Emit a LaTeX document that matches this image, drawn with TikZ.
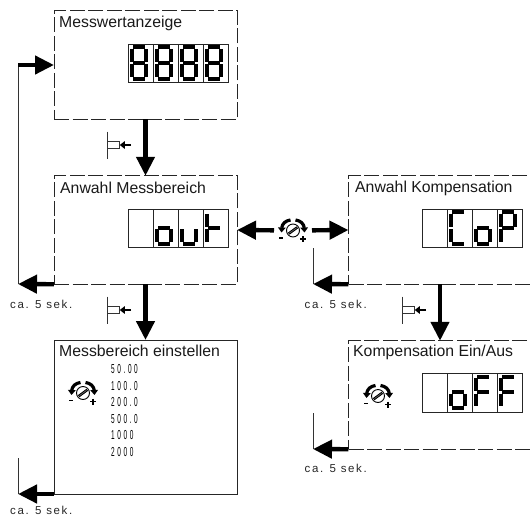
\documentclass[tikz,border=0pt]{standalone}
\usepackage{fontspec}
\setmainfont{Liberation Sans}
\newfontfamily\thinfont[LetterSpace=14]{Liberation Sans}
\newfontfamily\narrowfont[FakeStretch=0.5,LetterSpace=20]{Liberation Sans}
\usetikzlibrary{arrows.meta}
\tikzset{
  x=1pt,y=-1pt,
  stage/.style={draw=black!85,line width=0.8pt,minimum width=183pt,minimum height=108.5pt,inner sep=0pt,outer sep=0pt,dash pattern=on 15pt off 3.5pt},
  stagesolid/.style={draw=black!85,line width=0.8pt,minimum width=183pt,minimum height=154pt,inner sep=0pt,outer sep=0pt},
  flow/.style={line width=4.4pt,-{Triangle[length=19pt,width=18pt]},black},
  backline/.style={line width=0.8pt,black!80},
  title/.style={anchor=west,inner sep=0pt,font=\fontsize{15.8}{18}\selectfont,text=black!90},
  note/.style={anchor=west,inner sep=0pt,font=\thinfont\fontsize{11.5}{13}\selectfont,text=black!85},
  rangeval/.style={anchor=west,inner sep=0pt,font=\narrowfont\fontsize{13}{15}\selectfont},
  knobzone/.style={circle,minimum size=38pt,inner sep=0pt,outer sep=0pt},
  seg/.style={line width=4pt,black},
  seg a/.pic={\draw[seg] (1.6,-31.2)--(13.2,-31.2);},
  seg b/.pic={\draw[seg] (14.8,-29.6)--(14.8,-17);},
  seg c/.pic={\draw[seg] (14.8,-14.2)--(14.8,-1.6);},
  seg d/.pic={\draw[seg] (1.6,0)--(13.2,0);},
  seg e/.pic={\draw[seg] (0,-14.2)--(0,-1.6);},
  seg f/.pic={\draw[seg] (0,-29.6)--(0,-17);},
  seg g/.pic={\draw[seg] (1.6,-15.6)--(13.2,-15.6);},
  knob/.pic={
    \draw[line width=0.9pt,fill=white] (0,0) circle[radius=6.5];
    \draw[line width=0.8pt,fill=black!60] (-4.5,2.2)--(3.4,-3.6)--(4.5,-2.2)--(-3.4,3.6)--cycle;
    \draw[line width=3.2pt,-{Triangle[length=5pt,width=7.5pt]}] (-2.5,-10.5) .. controls (-7.5,-10) and (-11,-6.5) .. (-11.5,2);
    \draw[line width=3.2pt,-{Triangle[length=5pt,width=7.5pt]}] (2.5,-10.5) .. controls (7.5,-10) and (11,-6.5) .. (11.5,2);
    \draw[line width=1.5pt] (-14,7.7)--(-10,7.7);
    \draw[line width=1.4pt] (7,8.5)--(13,8.5) (10,5.5)--(10,11.5);
  },
  pusher/.pic={
    \draw[line width=0.7pt,black!80] (0,-13.5)--(0,13.5);
    \draw[line width=0.7pt,black!80,fill=white] (0,-3.5) rectangle (12.5,3.5);
    \draw[line width=2.6pt,-{Triangle[length=5pt,width=7.5pt]}] (24,0)--(12.8,0);
  },
}
\newcommand{\segdigit}[3]{%
  \begin{scope}[shift={(#1+3.6,#2+34.5)},xslant=0.12]
    \foreach \s in {#3} {\pic {seg \s};}
  \end{scope}}
\newcommand{\showdisp}[6]{%
  \foreach \i in {0,1,2,3} {\draw[line width=0.8pt,black!85] (#1+25*\i,#2) rectangle ++(25,38.5);}
  \segdigit{#1}{#2}{#3}\segdigit{#1+25}{#2}{#4}\segdigit{#1+50}{#2}{#5}\segdigit{#1+75}{#2}{#6}}
\begin{document}
\begin{tikzpicture}
\useasboundingbox (0,0) rectangle (530,517);
\clip (0,0) rectangle (530,517);
\node[stage] (anzeige) at (145.5,65) {};
\node[stage] (messb) at (145.5,230) {};
\node[stagesolid] (einst) at (145.5,417) {};
\node[stage] (komp) at (440,230) {};
\node[stage] (einaus) at (440,395) {};
\node[title] (t1) at (59,23) {Messwertanzeige};
\node[title] (t2) at (60,188) {Anwahl Messbereich};
\node[title] (t3) at (59,351) {Messbereich einstellen};
\node[title] (t4) at (355,188) {Anwahl Kompensation};
\node[title] (t5) at (353,352) {Kompensation Ein/Aus};
\showdisp{128}{44}{a,b,c,d,e,f,g}{a,b,c,d,e,f,g}{a,b,c,d,e,f,g}{a,b,c,d,e,f,g}
\showdisp{128}{209}{}{c,d,e,g}{c,d,e}{e,f,g}
\showdisp{422}{209}{}{a,d,e,f}{c,d,e,g}{a,b,e,f,g}
\showdisp{422}{373.5}{}{c,d,e,g}{a,e,f,g}{a,e,f,g}
\draw[flow] (anzeige.south) -- (messb.north);
\draw[flow] (messb.south) -- (einst.north);
\draw[flow] (komp.south) -- (einaus.north);
\pic at (107,145) {pusher};
\pic at (107,310) {pusher};
\pic at (402,310) {pusher};
\node[knobzone] (kmain) at (293,230.5) {};
\pic at (kmain) {knob};
\pic at (83,393) {knob};
\pic at (378,396) {knob};
\draw[flow] (kmain) -- (messb.east);
\draw[flow] (kmain) -- (komp.west);
% return paths
\coordinate (l1) at (18,284);
\coordinate (l1up) at (18,65);
\coordinate (l2) at (18,494);
\coordinate (l2up) at (18,458);
\coordinate (l3) at (313,284);
\coordinate (l3up) at (313,248);
\coordinate (l4) at (313,449);
\coordinate (l4up) at (313,413);
\draw[backline] (l1) -- (l1up);
\draw[flow] (l1up) -- (anzeige.west);
\draw[flow] (messb.south west) -- (l1);
\draw[backline] (l2) -- (l2up);
\draw[flow] (einst.south west) -- (l2);
\draw[backline] (l3) -- (l3up);
\draw[flow] (komp.south west) -- (l3);
\draw[backline] (l4) -- (l4up);
\draw[flow] (einaus.south west) -- (l4);
\node[note] (n1) at (10,304) {ca. 5 sek.};
\node[note] (n2) at (10,510.5) {ca. 5 sek.};
\node[note] (n3) at (304.5,304) {ca. 5 sek.};
\node[note] (n4) at (304.5,468) {ca. 5 sek.};
\node[rangeval] (r1) at (111,369.5) {50.00};
\node[rangeval] (r2) at (111,386) {100.0};
\node[rangeval] (r3) at (111,402.5) {200.0};
\node[rangeval] (r4) at (111,419) {500.0};
\node[rangeval] (r5) at (111,435) {1000};
\node[rangeval] (r6) at (111,452) {2000};
\end{tikzpicture}
\end{document}
